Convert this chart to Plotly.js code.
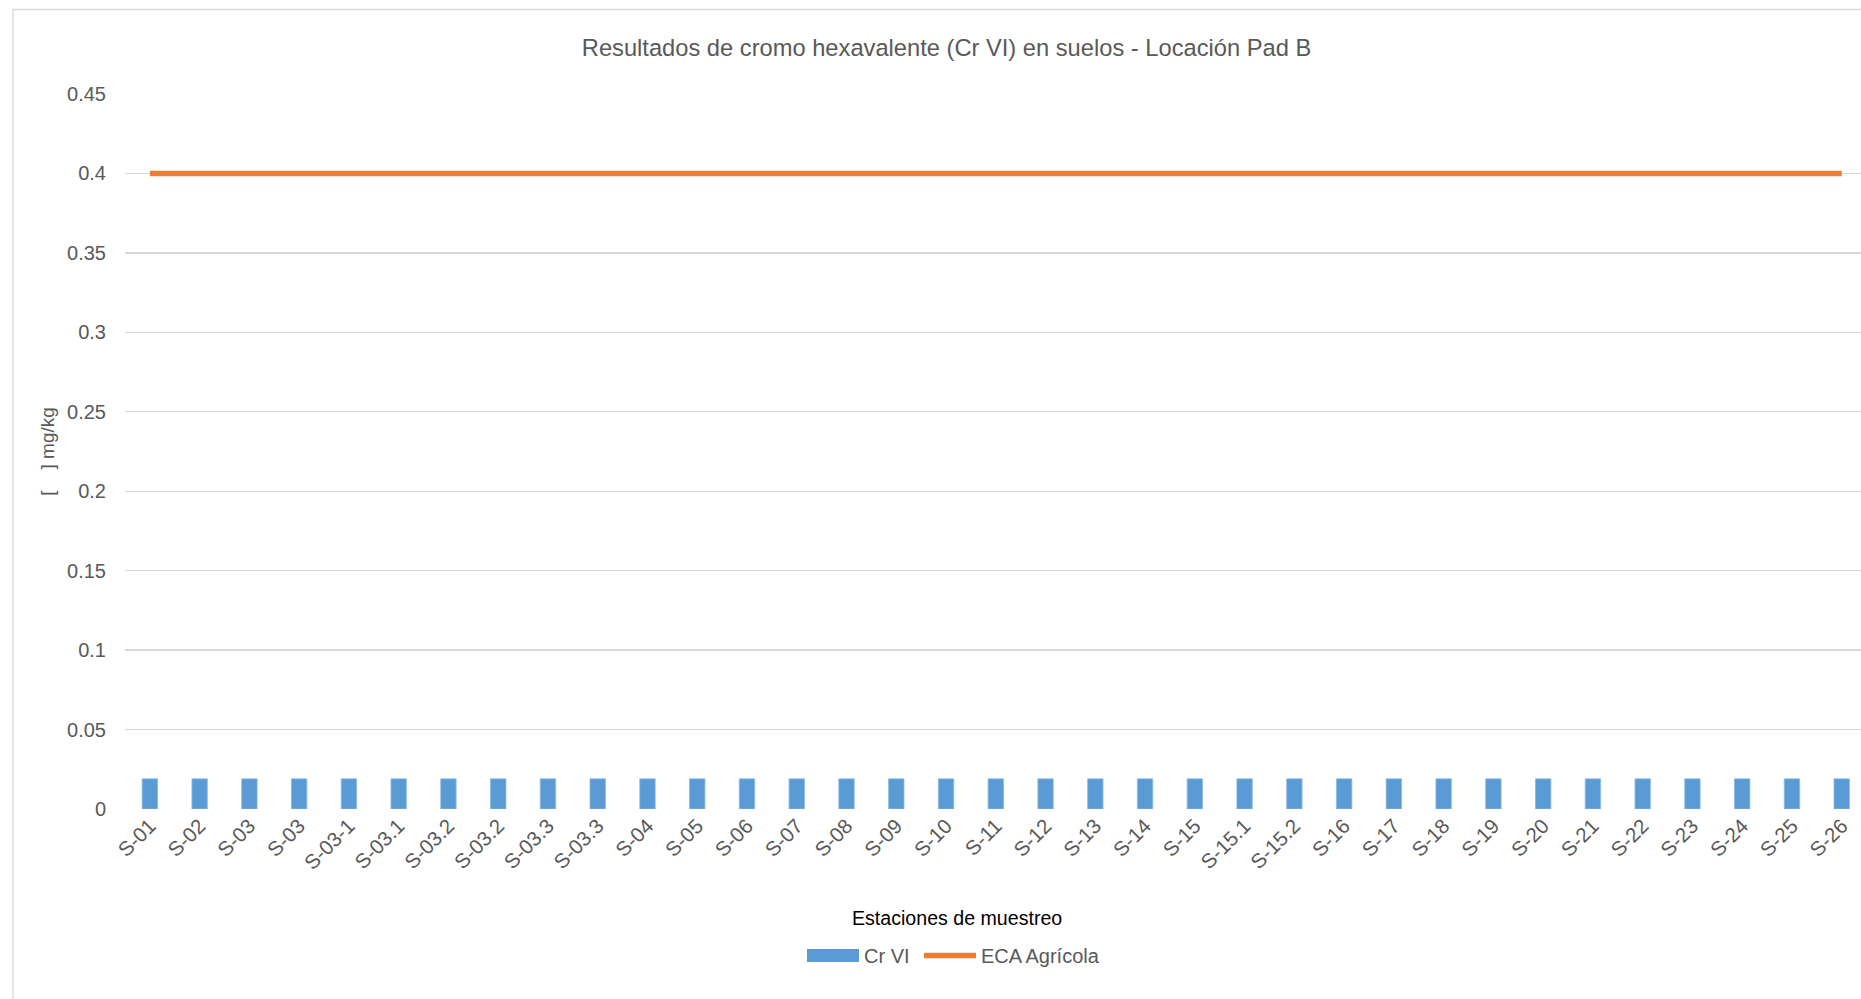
<!DOCTYPE html>
<html>
<head>
<meta charset="utf-8">
<script src="https://cdn.plot.ly/plotly-3.0.1.min.js"></script>
<style>
  html, body { margin: 0; padding: 0; background: #ffffff; }
  #chart { width: 1861px; height: 999px; }
</style>
</head>
<body>
<div id="chart"></div>
<script>
// Sampling stations (some codes repeat, so bars are placed by index)
const stations = [
  'S-01', 'S-02', 'S-03', 'S-03', 'S-03-1', 'S-03.1', 'S-03.2', 'S-03.2',
  'S-03.3', 'S-03.3', 'S-04', 'S-05', 'S-06', 'S-07', 'S-08', 'S-09',
  'S-10', 'S-11', 'S-12', 'S-13', 'S-14', 'S-15', 'S-15.1', 'S-15.2',
  'S-16', 'S-17', 'S-18', 'S-19', 'S-20', 'S-21', 'S-22', 'S-23',
  'S-24', 'S-25', 'S-26'
];

// Hexavalent chromium results, mg/kg
const crVI = [
  0.019, 0.019, 0.019, 0.019, 0.019, 0.019, 0.019, 0.019,
  0.019, 0.019, 0.019, 0.019, 0.019, 0.019, 0.019, 0.019,
  0.019, 0.019, 0.019, 0.019, 0.019, 0.019, 0.019, 0.019,
  0.019, 0.019, 0.019, 0.019, 0.019, 0.019, 0.019, 0.019,
  0.019, 0.019, 0.019
];

// Agricultural soil quality standard (ECA), mg/kg
const ecaAgricola = [
  0.4, 0.4, 0.4, 0.4, 0.4, 0.4, 0.4, 0.4,
  0.4, 0.4, 0.4, 0.4, 0.4, 0.4, 0.4, 0.4,
  0.4, 0.4, 0.4, 0.4, 0.4, 0.4, 0.4, 0.4,
  0.4, 0.4, 0.4, 0.4, 0.4, 0.4, 0.4, 0.4,
  0.4, 0.4, 0.4
];

const yTickVals = [0, 0.05, 0.1, 0.15, 0.2, 0.25, 0.3, 0.35, 0.4, 0.45];
const yTickText = ['0', '0.05', '0.1', '0.15', '0.2', '0.25', '0.3', '0.35', '0.4', '0.45'];

const seriesNames = ['Cr VI', 'ECA Agrícola'];
const colors = { bar: '#5B9BD5', line: '#ED7D31' };

const FONT = '"Liberation Sans Narrow", "Arial Narrow", "Liberation Sans", Arial, sans-serif';
const GREY = '#595959';

const positions = stations.map((_, i) => i);

// plot-area geometry in pixels
const W = 1861, H = 999;
const M = { l: 125, r: 0, t: 94, b: 190 };
const plotW = W - M.l - M.r;
const plotH = H - M.t - M.b;
const px = x => (x - M.l) / plotW;
const py = y => (H - M.b - y) / plotH;
const band = 49.76;

const traces = [
  {
    type: 'bar',
    name: seriesNames[0],
    x: positions,
    y: crVI,
    width: 0.31,
    marker: { color: colors.bar, line: { color: '#8cb9e3', width: 0.8 } },
    hoverinfo: 'y'
  },
  {
    type: 'scatter',
    mode: 'lines',
    name: seriesNames[1],
    x: positions,
    y: ecaAgricola,
    line: { color: colors.line, width: 5.5 },
    hoverinfo: 'y'
  }
];

const layout = {
  width: W,
  height: H,
  margin: M,
  paper_bgcolor: 'rgba(0,0,0,0)',
  plot_bgcolor: 'rgba(0,0,0,0)',
  showlegend: false,
  font: { family: FONT, color: GREY, size: 20 },
  title: {
    text: 'Resultados de cromo hexavalente (Cr VI) en suelos - Locación Pad B',
    font: { family: FONT, size: 23.7, color: GREY },
    xref: 'container', yref: 'container',
    x: 946.5 / W, xanchor: 'center',
    y: 1 - 47.5 / H, yanchor: 'middle'
  },
  xaxis: {
    range: [-0.5, -0.5 + plotW / band],
    tickmode: 'array',
    tickvals: positions,
    ticktext: stations,
    tickangle: -45,
    tickfont: { family: FONT, size: 20.5, color: GREY },
    showgrid: false,
    zeroline: false,
    showline: false,
    ticks: ''
  },
  yaxis: {
    range: [0, 0.45],
    tickmode: 'array',
    tickvals: yTickVals,
    ticktext: yTickText,
    tickfont: { family: FONT, size: 20, color: GREY },
    ticklabelstandoff: 18,
    showgrid: true,
    gridcolor: '#d9d9d9',
    gridwidth: 1.3,
    zeroline: false,
    showline: false,
    ticks: '',
    ticklen: 0,
    title: {
      text: '[\u00a0\u00a0\u00a0\u00a0] mg/kg',
      font: { family: FONT, size: 19, color: GREY },
      standoff: 7
    }
  },
  shapes: [
    // chart frame
    { type: 'rect', xref: 'paper', yref: 'paper', layer: 'below',
      x0: px(13), x1: px(1900), y0: py(9.5), y1: py(1100),
      line: { color: '#d9d9d9', width: 1.3 }, fillcolor: 'rgba(0,0,0,0)' },
    // legend swatches
    { type: 'rect', xref: 'paper', yref: 'paper',
      x0: px(807), x1: px(859), y0: py(962), y1: py(949),
      line: { width: 0 }, fillcolor: colors.bar },
    { type: 'line', xref: 'paper', yref: 'paper',
      x0: px(924), x1: px(976), y0: py(955.5), y1: py(955.5),
      line: { color: colors.line, width: 5.5 } }
  ],
  annotations: [
    // category axis title, centred on the chart area
    { xref: 'paper', yref: 'paper', x: px(957), y: py(918),
      xanchor: 'center', yanchor: 'middle', showarrow: false,
      text: 'Estaciones de muestreo', font: { family: FONT, size: 19.6, color: '#000000' } },
    // legend labels
    { xref: 'paper', yref: 'paper', x: px(862), y: py(955.5),
      xanchor: 'left', yanchor: 'middle', showarrow: false,
      text: seriesNames[0], font: { family: FONT, size: 20, color: GREY } },
    { xref: 'paper', yref: 'paper', x: px(979), y: py(955.5),
      xanchor: 'left', yanchor: 'middle', showarrow: false,
      text: seriesNames[1], font: { family: FONT, size: 20, color: GREY } }
  ]
};

Plotly.newPlot('chart', traces, layout, { displayModeBar: false, staticPlot: true });
</script>
</body>
</html>
